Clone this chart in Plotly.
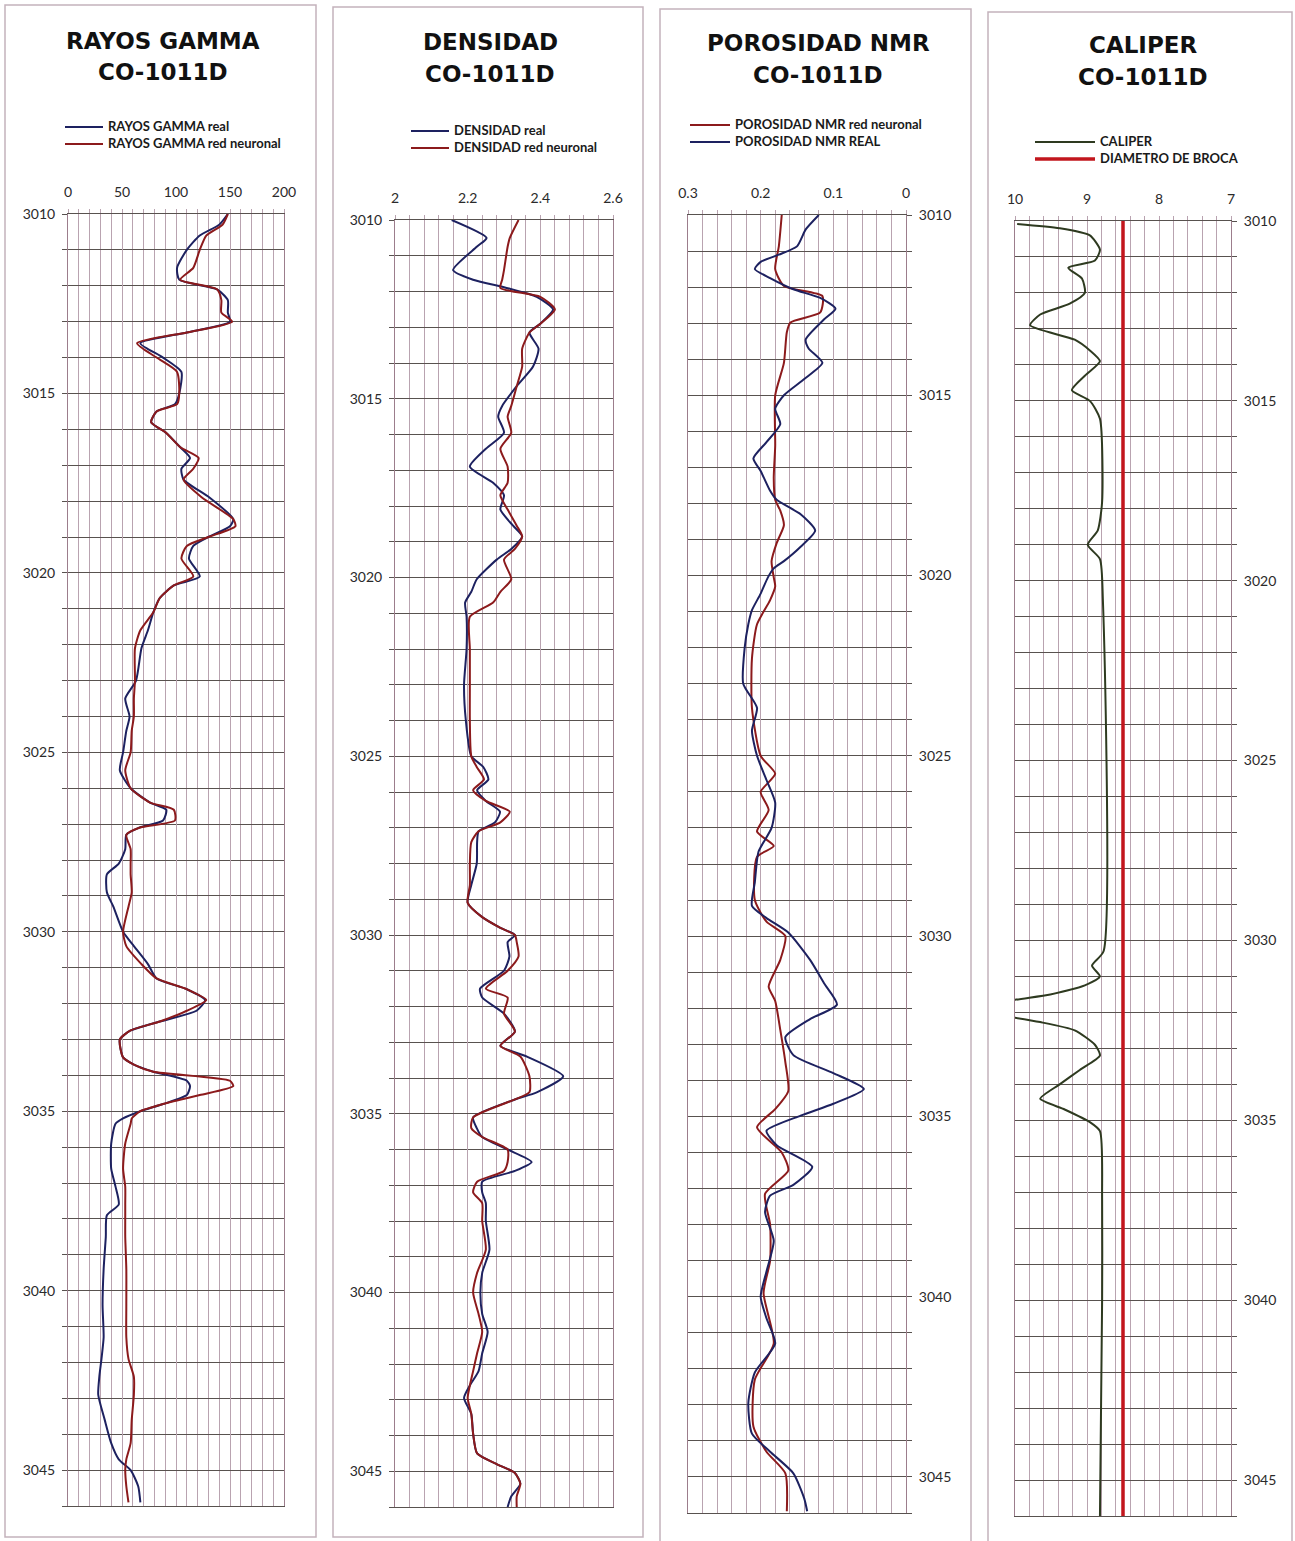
import plotly.graph_objects as go

W, H = 1295, 1541

# ---------------- well CO-1011D, interval 3010-3046 m ----------------
# Gamma ray (API)
gr_depth = [3010.0, 3010.3, 3010.6, 3011.0, 3011.5, 3011.83, 3012.1, 3012.4, 3012.75, 3013.0,
            3013.3, 3013.6, 3014.0, 3014.4, 3015.0, 3015.3, 3015.5, 3015.8, 3016.1, 3016.5,
            3016.8, 3017.1, 3017.4, 3017.9, 3018.5, 3018.7, 3019.0, 3019.25, 3019.6, 3020.1,
            3020.35, 3020.7, 3021.1, 3021.6, 3022.1, 3023.0, 3023.5, 3024.0, 3024.4, 3025.0,
            3025.5, 3026.0, 3026.4, 3026.6, 3026.9, 3027.1, 3027.3, 3027.7, 3028.1, 3028.4,
            3028.9, 3029.3, 3030.0, 3030.4, 3030.9, 3031.3, 3031.6, 3031.9, 3032.2, 3032.5,
            3032.75, 3033.0, 3033.5, 3033.7, 3033.9, 3034.15, 3034.3, 3034.55, 3034.8, 3035.0,
            3035.2, 3035.35, 3035.9, 3036.6, 3037.1, 3037.6, 3037.9, 3038.5, 3039.4, 3040.4,
            3041.3, 3041.9, 3042.4, 3042.9, 3043.6, 3044.25, 3044.7, 3045.0, 3045.45, 3045.9]
gr_real = [148, 140, 122, 110, 101, 103, 138, 148, 148, 150,
           110, 67, 88, 105, 103, 99, 82, 77, 91, 104,
           113, 105, 107, 131, 153, 150, 130, 116, 112, 122,
           98, 85, 79, 74, 68, 63, 53, 57, 54, 51,
           48, 58, 76, 91, 88, 66, 54, 53, 47, 36,
           36, 42, 51, 61, 74, 82, 110, 127, 119, 85,
           58, 48, 51, 61, 79, 110, 113, 110, 88, 67,
           51, 44, 40, 40, 44, 47, 36, 35, 33, 32,
           33, 31, 29, 28, 34, 40, 47, 58, 65, 67]
gr_neural = [148, 143, 128, 122, 116, 104, 138, 142, 142, 152,
             110, 64, 82, 101, 103, 101, 82, 77, 91, 104,
             121, 116, 107, 124, 153, 155, 130, 110, 105, 116,
             98, 85, 79, 67, 62, 62, 61, 61, 59, 58,
             53, 58, 76, 98, 99, 66, 54, 58, 58, 58,
             59, 56, 51, 54, 68, 82, 110, 128, 110, 85,
             58, 48, 51, 61, 79, 150, 153, 122, 88, 67,
             59, 58, 53, 51, 53, 53, 53, 53, 54, 54,
             54, 56, 61, 61, 59, 58, 54, 53, 54, 56]

# Bulk density (g/cc)
den_depth = [3010.0, 3010.5, 3010.75, 3011.4, 3011.67, 3011.9, 3012.15, 3012.5, 3012.9, 3013.15,
             3013.6, 3014.1, 3014.65, 3015.2, 3015.5, 3015.95, 3016.4, 3016.9, 3017.35, 3017.7,
             3018.1, 3018.55, 3018.85, 3019.2, 3019.5, 3020.05, 3020.4, 3020.7, 3021.1, 3022.0,
             3023.0, 3024.0, 3025.0, 3025.3, 3025.65, 3025.95, 3026.25, 3026.55, 3026.85, 3027.1,
             3027.4, 3028.0, 3028.6, 3029.1, 3029.5, 3029.8, 3030.0, 3030.2, 3030.6, 3031.0,
             3031.5, 3031.75, 3032.2, 3032.7, 3033.1, 3033.4, 3033.95, 3034.4, 3034.6, 3035.1,
             3035.4, 3035.65, 3036.0, 3036.35, 3036.6, 3036.9, 3037.2, 3037.5, 3038.0, 3038.8,
             3039.45, 3040.0, 3040.6, 3041.1, 3041.7, 3042.2, 3042.6, 3042.95, 3043.4, 3043.95,
             3044.5, 3044.8, 3045.05, 3045.35, 3045.7, 3046.0]
den_real = [2.156, 2.252, 2.225, 2.16, 2.215, 2.307, 2.39, 2.435, 2.40, 2.37,
            2.395, 2.38, 2.335, 2.295, 2.284, 2.30, 2.25, 2.206, 2.27, 2.30,
            2.29, 2.325, 2.35, 2.32, 2.28, 2.225, 2.21, 2.193, 2.197, 2.197,
            2.19, 2.195, 2.21, 2.243, 2.257, 2.226, 2.25, 2.289, 2.275, 2.23,
            2.226, 2.225, 2.21, 2.20, 2.24, 2.29, 2.33, 2.31, 2.315, 2.30,
            2.234, 2.24, 2.30, 2.33, 2.29, 2.363, 2.463, 2.39, 2.33, 2.215,
            2.225, 2.24, 2.31, 2.376, 2.33, 2.24, 2.24, 2.25, 2.25, 2.26,
            2.24, 2.235, 2.24, 2.255, 2.24, 2.23, 2.206, 2.19, 2.21, 2.215,
            2.226, 2.28, 2.33, 2.345, 2.32, 2.31]
den_neural = [2.34, 2.316, 2.31, 2.30, 2.295, 2.29, 2.40, 2.44, 2.40, 2.37,
              2.35, 2.35, 2.335, 2.32, 2.31, 2.32, 2.29, 2.31, 2.31, 2.29,
              2.31, 2.335, 2.35, 2.33, 2.30, 2.32, 2.29, 2.27, 2.206, 2.206,
              2.206, 2.206, 2.21, 2.225, 2.245, 2.215, 2.25, 2.316, 2.29, 2.23,
              2.21, 2.206, 2.206, 2.20, 2.24, 2.29, 2.33, 2.335, 2.34, 2.31,
              2.25, 2.31, 2.30, 2.33, 2.29, 2.345, 2.37, 2.37, 2.33, 2.215,
              2.21, 2.24, 2.31, 2.31, 2.30, 2.226, 2.215, 2.24, 2.24, 2.25,
              2.226, 2.215, 2.23, 2.24, 2.226, 2.215, 2.206, 2.20, 2.21, 2.215,
              2.226, 2.28, 2.33, 2.345, 2.335, 2.335]

# NMR porosity (v/v)
nmr_real_depth = [3010.0, 3010.4, 3010.87, 3011.1, 3011.3, 3011.5, 3011.75, 3012.06, 3012.3, 3012.6,
                  3012.9, 3013.45, 3013.7, 3014.1, 3014.55, 3015.0, 3015.37, 3015.8, 3016.3, 3016.75,
                  3017.1, 3017.65, 3017.9, 3018.3, 3018.75, 3019.2, 3019.6, 3019.8, 3020.05, 3020.5,
                  3020.96, 3021.35, 3022.0, 3023.0, 3023.67, 3024.3, 3025.0, 3025.67, 3026.3, 3027.0,
                  3027.66, 3028.5, 3029.16, 3029.5, 3029.9, 3030.66, 3031.3, 3031.9, 3032.3, 3032.8,
                  3033.3, 3033.8, 3034.24, 3034.65, 3034.98, 3035.4, 3035.8, 3036.4, 3036.9, 3037.2,
                  3037.65, 3038.45, 3039.3, 3040.0, 3040.6, 3041.3, 3042.1, 3042.95, 3043.8, 3044.3,
                  3044.9, 3045.6, 3045.95]
nmr_real = [0.120, 0.138, 0.150, 0.175, 0.200, 0.208, 0.187, 0.155, 0.118, 0.097,
            0.113, 0.138, 0.134, 0.115, 0.140, 0.168, 0.180, 0.173, 0.192, 0.210,
            0.200, 0.187, 0.178, 0.145, 0.125, 0.145, 0.168, 0.182, 0.190, 0.200,
            0.212, 0.217, 0.222, 0.224, 0.205, 0.212, 0.205, 0.192, 0.180, 0.185,
            0.203, 0.208, 0.212, 0.192, 0.162, 0.132, 0.113, 0.095, 0.132, 0.166,
            0.155, 0.100, 0.058, 0.100, 0.145, 0.192, 0.178, 0.129, 0.155, 0.187,
            0.194, 0.182, 0.192, 0.200, 0.192, 0.180, 0.208, 0.217, 0.212, 0.187,
            0.155, 0.140, 0.136]
nmr_neural_depth = [3010.0, 3010.87, 3011.5, 3011.97, 3012.25, 3012.7, 3012.98, 3013.25, 3014.1, 3015.0,
                    3016.4, 3017.3, 3017.9, 3018.2, 3018.6, 3019.1, 3019.6, 3020.05, 3020.3, 3020.68,
                    3021.35, 3022.3, 3023.67, 3025.0, 3025.5, 3026.0, 3026.5, 3027.1, 3027.5, 3027.8,
                    3029.0, 3029.6, 3030.0, 3030.66, 3031.4, 3031.8, 3032.6, 3033.5, 3034.3, 3034.8,
                    3035.3, 3036.0, 3036.5, 3037.15, 3038.0, 3039.0, 3039.9, 3041.3, 3042.3, 3043.6,
                    3044.3, 3044.9, 3045.95]
nmr_neural = [0.171, 0.175, 0.180, 0.168, 0.115, 0.118, 0.159, 0.164, 0.168, 0.180,
              0.180, 0.182, 0.180, 0.173, 0.168, 0.178, 0.185, 0.182, 0.180, 0.187,
              0.205, 0.212, 0.212, 0.200, 0.180, 0.200, 0.189, 0.205, 0.182, 0.205,
              0.208, 0.192, 0.166, 0.173, 0.189, 0.180, 0.173, 0.166, 0.162, 0.180,
              0.205, 0.171, 0.162, 0.194, 0.187, 0.187, 0.196, 0.182, 0.208, 0.210,
              0.192, 0.166, 0.164]

# Caliper (in) and bit size
cal_depth = [3010.08, 3010.2, 3010.4, 3010.8, 3011.1, 3011.3, 3011.6, 3012.0, 3012.3, 3012.6,
             3012.9, 3013.3, 3013.6, 3013.9, 3014.3, 3014.7, 3015.0, 3015.5, 3017.8, 3018.6,
             3019.0, 3019.4, 3020.5, 3030.3, 3030.7, 3031.0, 3031.25, 3031.5, 3031.65, 3031.85,
             3032.0, 3032.15, 3032.27, 3032.5, 3032.9, 3033.2, 3033.6, 3034.0, 3034.4, 3034.7,
             3035.05, 3035.3, 3037.2, 3040.0, 3046.0]
cal_value = [9.97, 9.38, 8.96, 8.82, 8.89, 9.26, 9.07, 9.03, 9.24, 9.65,
             9.79, 9.17, 8.96, 8.82, 9.03, 9.21, 8.96, 8.82, 8.79, 8.85,
             8.99, 8.82, 8.78, 8.77, 8.93, 8.82, 9.03, 9.51, 10.0, 10.5,
             10.5, 10.0, 9.65, 9.17, 8.89, 8.82, 9.10, 9.38, 9.65, 9.31,
             8.96, 8.82, 8.79, 8.79, 8.82]
bit_depth = [3010.0, 3046.0]
bit_size = [8.5, 8.5]

DEPTH_TOP, DEPTH_BASE = 3010, 3046

BLUE = "#1d2160"
RED = "#8c1a1c"
CAL_COLOR = "#2e3a20"
BIT_COLOR = "#c2161d"
VGRID = "#b9a3b0"
HGRID = "#58524f"
FONT = "Lato"


def fx(px):
    return px / W


def fy(px):
    return 1 - px / H


def grid_vals(a, b, step, n):
    return [round(a + i * step, 4) for i in range(n + 1)]


# panel geometry in pixels: plot area, outer frame, title and key placement
panels = [
    dict(plot=(68, 284, 214, 1506), frame=(5, 316, 5, 1537), yside="left",
         xr=[0, 200], xt=[0, 50, 100, 150, 200], xtt=["0", "50", "100", "150", "200"],
         minor=grid_vals(0, 200, 10, 20),
         title=("RAYOS GAMMA", "CO-1011D"), title_xy=(163, 41, 72),
         key=(65, 103, 127, 17)),
    dict(plot=(395, 613, 220, 1507), frame=(333, 643, 7, 1537), yside="left",
         xr=[2, 2.6], xt=[2, 2.2, 2.4, 2.6], xtt=["2", "2.2", "2.4", "2.6"],
         minor=grid_vals(2, 2.6, 0.04, 15),
         title=("DENSIDAD", "CO-1011D"), title_xy=(490, 42, 74),
         key=(411, 449, 131, 17)),
    dict(plot=(688, 906, 215, 1513), frame=(660, 971, 9, 1545), yside="right",
         xr=[0.3, 0], xt=[0.3, 0.2, 0.1, 0], xtt=["0.3", "0.2", "0.1", "0"],
         minor=grid_vals(0, 0.3, 0.02, 15),
         title=("POROSIDAD NMR", "CO-1011D"), title_xy=(818, 43, 75),
         key=(690, 730, 125, 17)),
    dict(plot=(1015, 1231, 221, 1516), frame=(988, 1292, 12, 1545), yside="right",
         xr=[10, 7], xt=[10, 9, 8, 7], xtt=["10", "9", "8", "7"],
         minor=grid_vals(7, 10, 0.2, 15),
         title=("CALIPER", "CO-1011D"), title_xy=(1143, 45, 77),
         key=(1035, 1095, 142, 17)),
]

series = [
    # (panel index, name, depth, values, colour, width)
    (0, "RAYOS GAMMA real", gr_depth, gr_real, BLUE, 2),
    (0, "RAYOS GAMMA red neuronal", gr_depth, gr_neural, RED, 2),
    (1, "DENSIDAD real", den_depth, den_real, BLUE, 2),
    (1, "DENSIDAD red neuronal", den_depth, den_neural, RED, 2),
    (2, "POROSIDAD NMR red neuronal", nmr_neural_depth, nmr_neural, RED, 2),
    (2, "POROSIDAD NMR REAL", nmr_real_depth, nmr_real, BLUE, 2),
    (3, "CALIPER", cal_depth, cal_value, CAL_COLOR, 2),
    (3, "DIAMETRO DE BROCA", bit_depth, bit_size, BIT_COLOR, 3.5),
]

fig = go.Figure()
for idx, name, depth, vals, color, width in series:
    sfx = "" if idx == 0 else str(idx + 1)
    fig.add_trace(go.Scatter(
        x=vals, y=depth, mode="lines", name=name, showlegend=False,
        line=dict(color=color, width=width, shape="spline", smoothing=0.6),
        xaxis="x" + sfx, yaxis="y" + sfx,
    ))

layout = dict(
    width=W, height=H,
    margin=dict(l=0, r=0, t=0, b=0),
    paper_bgcolor="white", plot_bgcolor="white",
    font=dict(family=FONT, color="#222"),
    showlegend=False,
)

shapes = []
annotations = []

for i, p in enumerate(panels):
    sfx = "" if i == 0 else str(i + 1)
    x0, x1, y0, y1 = p["plot"]
    layout["xaxis" + sfx] = dict(
        domain=[fx(x0), fx(x1)], range=p["xr"], side="top",
        anchor="y" + sfx, automargin=False,
        tickmode="array", tickvals=p["xt"], ticktext=p["xtt"],
        showgrid=True, gridcolor=VGRID, gridwidth=1,
        ticks="outside", ticklen=4, tickcolor=VGRID,
        minor=dict(tickmode="array", tickvals=p["minor"], showgrid=True,
                   gridcolor=VGRID, gridwidth=1, ticks="outside", ticklen=4,
                   tickcolor=VGRID),
        showline=True, linecolor=HGRID, linewidth=1, mirror=True,
        zeroline=False, tickfont=dict(family=FONT, size=14, color="#2a2a2a"),
        ticklabelstandoff=6, fixedrange=True,
    )
    layout["yaxis" + sfx] = dict(
        domain=[fy(y1), fy(y0)], range=[DEPTH_BASE, DEPTH_TOP],
        anchor="x" + sfx, side=p["yside"], automargin=False,
        tickmode="array", tickvals=[3010, 3015, 3020, 3025, 3030, 3035, 3040, 3045],
        showgrid=True, gridcolor=HGRID, gridwidth=1,
        ticks="outside", ticklen=5, tickcolor=HGRID,
        minor=dict(tickmode="array", tickvals=list(range(3010, 3047)), showgrid=True,
                   gridcolor=HGRID, gridwidth=1, ticks="outside", ticklen=5,
                   tickcolor=HGRID),
        showline=True, linecolor="#9c7d8c", linewidth=1, mirror=True,
        zeroline=False, tickfont=dict(family=FONT, size=14, color="#2a2a2a"),
        ticklabelstandoff=4, fixedrange=True,
    )

    # outer frame of the track
    fx0, fx1, fy0, fy1 = p["frame"]
    shapes.append(dict(type="rect", xref="paper", yref="paper",
                       x0=fx(fx0), x1=fx(fx1), y0=fy(fy1), y1=fy(fy0),
                       line=dict(color="#c4b2bc", width=1.5), layer="below"))

    # two-line track title
    tx, ty1, ty2 = p["title_xy"]
    for text, ty in zip(p["title"], (ty1, ty2)):
        annotations.append(dict(text=text, xref="paper", yref="paper",
                                x=fx(tx), y=fy(ty), xanchor="center", yanchor="middle",
                                showarrow=False,
                                font=dict(family="DejaVu Sans", size=23, color="#111",
                                          weight="bold")))

    # curve key: a short sample of each curve with its name
    kx0, kx1, ky, kgap = p["key"]
    entries = [s for s in series if s[0] == i]
    for j, (_, name, _, _, color, width) in enumerate(entries):
        yy = ky + j * kgap
        shapes.append(dict(type="line", xref="paper", yref="paper",
                           x0=fx(kx0), x1=fx(kx1), y0=fy(yy), y1=fy(yy),
                           line=dict(color=color, width=width)))
        annotations.append(dict(text=name, xref="paper", yref="paper",
                                x=fx(kx1 + 3), y=fy(yy - 1), xanchor="left",
                                yanchor="middle", showarrow=False,
                                font=dict(family=FONT, size=13, color="#1a1a1a",
                                          weight="bold")))

layout["shapes"] = shapes
layout["annotations"] = annotations
fig.update_layout(**layout)

# the page body keeps no default margin so the figure fills the window exactly
fig.write_html("out.html", post_script="document.body.style.margin='0';")
